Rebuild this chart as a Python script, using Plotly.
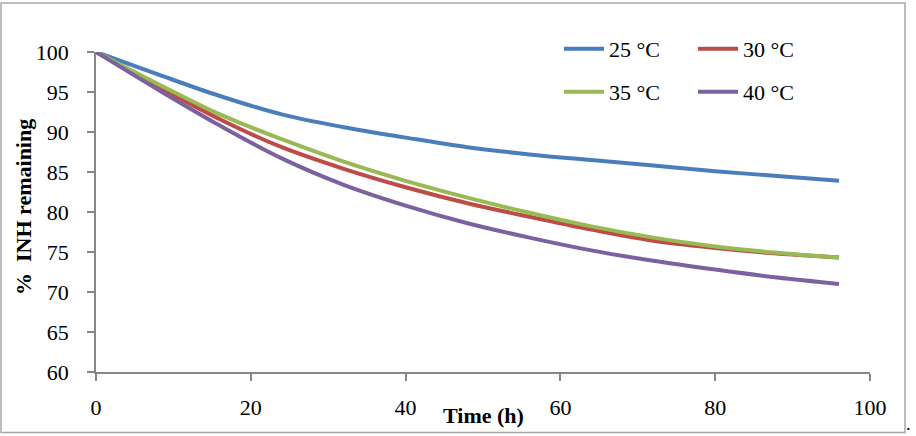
import plotly.graph_objects as go

time_h = [0, 8, 16, 24, 32, 40, 48, 56, 64, 72, 80, 88, 96]
inh_25 = [100, 97.2, 94.5, 92.2, 90.6, 89.3, 88.1, 87.2, 86.5, 85.8, 85.1, 84.5, 83.9]
inh_30 = [100, 95.7, 91.6, 88.1, 85.4, 83.1, 81.1, 79.4, 77.8, 76.4, 75.5, 74.8, 74.3]
inh_35 = [100, 96.0, 92.2, 89.1, 86.3, 83.9, 81.8, 79.9, 78.2, 76.8, 75.7, 74.9, 74.3]
inh_40 = [100, 95.3, 90.8, 86.7, 83.4, 80.8, 78.6, 76.8, 75.2, 73.9, 72.8, 71.8, 71.0]

series_names = ["25 °C", "30 °C", "35 °C", "40 °C"]
series_vals = [inh_25, inh_30, inh_35, inh_40]
series_colors = ["#4A7EBB", "#BE4B48", "#98B954", "#7D60A0"]
series_legend = ["legend", "legend", "legend2", "legend2"]

x_ticks = [0, 20, 40, 60, 80, 100]
y_ticks = [60, 65, 70, 75, 80, 85, 90, 95, 100]

FONT = "Liberation Serif, Times New Roman, serif"
W, H = 916, 436
L, R, T, B = 96, 46, 52, 64
PW, PH = W - L - R, H - T - B


def px(xp):
    return (xp - L) / PW


def py(yp):
    return (H - B - yp) / PH


fig = go.Figure()
for i in range(4):
    fig.add_trace(go.Scatter(
        x=time_h, y=series_vals[i], name=series_names[i], mode="lines",
        line=dict(color=series_colors[i], width=4, shape="spline", smoothing=1.0),
        legend=series_legend[i],
    ))

legend_common = dict(
    orientation="h", xanchor="left", yanchor="middle",
    font=dict(family=FONT, size=22, color="#000000"),
    bgcolor="rgba(0,0,0,0)", entrywidth=79, entrywidthmode="pixels",
    itemwidth=40, tracegroupgap=0, borderwidth=0,
)

fig.update_layout(
    width=W, height=H,
    margin=dict(l=L, r=R, t=T, b=B, pad=0, autoexpand=False),
    paper_bgcolor="white", plot_bgcolor="white",
    font=dict(family=FONT, size=22, color="#000000"),
    showlegend=True,
    legend=dict(x=px(559), y=py(49), **legend_common),
    legend2=dict(x=px(559), y=py(92), **legend_common),
    xaxis=dict(
        range=[0, 100], tickvals=x_ticks, ticktext=[str(v) for v in x_ticks],
        showgrid=False, zeroline=False, showline=True, linecolor="#868686", linewidth=1.5,
        ticks="outside", ticklen=7, tickcolor="#868686", tickwidth=1.5,
        tickfont=dict(family=FONT, size=22), ticklabelstandoff=8, automargin=False,
    ),
    yaxis=dict(
        range=[60, 100], tickvals=y_ticks, ticktext=[str(v) for v in y_ticks],
        showgrid=False, zeroline=False, showline=True, linecolor="#868686", linewidth=1.5,
        ticks="outside", ticklen=7, tickcolor="#868686", tickwidth=1.5,
        tickfont=dict(family=FONT, size=22), ticklabelstandoff=14, automargin=False,
    ),
    annotations=[
        dict(text="<b>Time (h)</b>", xref="paper", yref="paper", x=px(483), y=py(415),
             xanchor="center", yanchor="middle", showarrow=False,
             font=dict(family=FONT, size=22, color="#000000")),
        dict(text="<b>%  INH remaining</b>", xref="paper", yref="paper", x=px(23), y=py(207),
             xanchor="center", yanchor="middle", showarrow=False, textangle=-90,
             font=dict(family=FONT, size=22, color="#000000")),
        dict(text=".", xref="paper", yref="paper", x=px(908), y=py(424),
             xanchor="center", yanchor="middle", showarrow=False,
             font=dict(family=FONT, size=18, color="#000000")),
    ],
    shapes=[
        dict(type="rect", xref="paper", yref="paper",
             x0=px(1), x1=px(905), y0=py(432.5), y1=py(3),
             line=dict(color="#A6A6A6", width=1.5), fillcolor="rgba(0,0,0,0)", layer="below"),
    ],
)

fig.write_html("out.html")
